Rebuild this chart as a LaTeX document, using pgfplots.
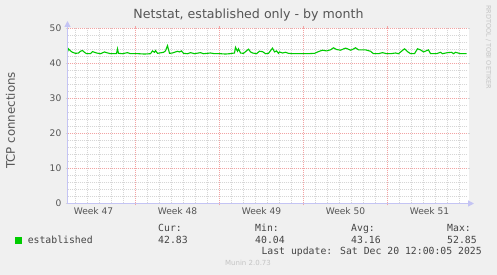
\documentclass[border=0pt]{standalone}
\usepackage{pgfplots}
\pgfplotsset{compat=1.18}
\usepackage{fontspec}
\setmainfont{DejaVu Sans}
\newfontfamily\mono{DejaVu Sans Mono}
\usetikzlibrary{arrows.meta}
\definecolor{bg}{HTML}{F0F0F0}
\definecolor{txt}{HTML}{555555}
\definecolor{ltxt}{HTML}{444444}
\definecolor{mgrid}{HTML}{F2A4A4}
\definecolor{sgrid}{HTML}{D6D6D6}
\definecolor{axisc}{HTML}{C4C4F4}
\definecolor{linec}{HTML}{00CC00}
\definecolor{wm}{HTML}{C4C4C4}
\pgfplotstableread{
x y
67 43.3
68 44.2
70 43.6
72 43.2
75 42.9
78 43.0
80 43.5
82 43.7
84 43.2
86 42.8
90 42.8
92 43.4
94 43.2
96 43.0
100 42.8
104 43.3
106 43.1
110 42.8
116 42.8
117 44.2
118 42.9
122 42.8
127 43.1
130 42.8
138 42.8
144 42.7
150 42.8
152 43.6
154 43.2
155 43.7
157 42.9
163 43.2
165 43.6
167 45.1
169 42.9
172 43.0
177 43.5
179 43.3
181 43.6
183 42.9
187 42.8
190 43.1
194 42.8
200 43.1
203 42.8
210 43.0
214 42.8
220 42.8
225 42.7
229 42.8
234 43.0
235 44.6
237 43.5
238 44.2
240 43.0
243 42.9
248 44.1
250 43.3
252 43.0
256 42.8
259 43.5
262 43.4
265 42.8
268 42.9
272 44.4
274 43.3
276 43.6
278 42.9
279 43.3
282 43.0
285 43.2
288 42.9
293 42.8
300 42.8
307 42.8
314 42.9
318 43.4
322 43.8
326 43.6
330 43.9
333 44.5
336 44.0
340 43.8
345 44.4
347 44.2
350 43.8
352 44.0
355 44.5
358 43.9
365 43.9
370 43.5
373 42.8
378 42.8
382 43.1
386 42.8
390 42.8
395 43.0
398 42.8
404 44.2
407 43.4
410 42.8
414 42.8
417 44.2
420 43.9
423 43.3
428 43.9
430 42.8
436 42.8
440 43.2
442 42.8
447 43.1
451 43.2
453 42.8
455 43.2
460 42.8
466 42.8
}\established
\begin{document}
\begin{tikzpicture}[x=1pt,y=1pt]
\fill[bg] (0,0) rectangle (497,275);
\fill[white] (67.5,71.5) rectangle (468.5,247);
\begin{axis}[
  at={(67.5pt,71.5pt)}, anchor=south west,
  scale only axis, width=400pt, height=175pt,
  xmin=67, xmax=467, ymin=0, ymax=50,
  axis line style={draw=none},
  xtick={135,219,303,387}, xticklabels={},
  minor xtick={75,87,99,111,123,147,159,171,183,195,207,231,243,255,267,279,291,315,327,339,351,363,375,399,411,423,435,447,459},
  ytick={0,10,20,30,40,50},
  minor ytick={2,4,6,8,12,14,16,18,22,24,26,28,32,34,36,38,42,44,46,48},
  xmajorgrids=true, ymajorgrids=true, xminorgrids=true, yminorgrids=true,
  major grid style={draw=mgrid, dash pattern=on 1pt off 1pt, line width=1pt},
  minor grid style={draw=sgrid, dash pattern=on 1pt off 1pt, line width=1pt},
  extra x ticks={93,177,261,345,429},
  extra x tick labels={Week 47,Week 48,Week 49,Week 50,Week 51},
  extra x tick style={xmajorgrids=false, major tick length=0pt},
  tick align=outside, major tick length=2pt, minor tick length=0pt,
  x tick style={draw=mgrid, line width=1pt},
  y tick style={draw=sgrid, line width=1pt},
  /pgf/number format/assume math mode=true,
  tick label style={font=\fontsize{9.1}{10}\selectfont, text=txt},
  xticklabel style={inner sep=0pt, anchor=north, yshift=-4pt},
  yticklabel style={inner sep=0pt, anchor=east, xshift=-4pt},
  title={Netstat, established only - by month},
  title style={at={(axis description cs:0.4525,1.0229)}, anchor=base, inner sep=0pt, font=\fontsize{12.6}{14}\selectfont, text=txt},
  ylabel={TCP connections},
  ylabel style={at={(axis description cs:-0.1425,0.474)}, anchor=center, inner sep=0pt, font=\fontsize{11.8}{13}\selectfont, text=txt},
  legend style={at={(axis description cs:-0.1325,-0.2114)}, anchor=west, draw=none, fill=none, inner sep=0pt, font=\mono\fontsize{9.8}{11}\selectfont, text=ltxt, nodes={inner sep=0pt}},
  legend image code/.code={\fill[linec] (0pt,-3pt) rectangle (6pt,3pt);},
  legend cell align=left,
  every axis legend/.append style={/tikz/every odd column/.style={column sep=6pt}},
]
\addplot[linec, line width=1.1pt] table[x=x,y=y] {\established};
\addlegendentry{established}
\end{axis}
\draw[axisc, line width=1pt, -{Triangle[width=6pt,length=6pt]}] (67.5,71) -- (67.5,254);
\draw[axisc, line width=1pt, -{Triangle[width=6pt,length=6pt]}] (67,71.5) -- (474,71.5);
\begin{scope}[every node/.style={inner sep=0pt, text=ltxt, font=\mono\fontsize{9.8}{11}\selectfont}]
\node[anchor=base west] at (158,43.3) {Cur:};
\node[anchor=base west] at (158,31.7) {42.83};
\node[anchor=base west] at (255,43.3) {Min:};
\node[anchor=base west] at (255,31.7) {40.04};
\node[anchor=base west] at (351,43.3) {Avg:};
\node[anchor=base west] at (351,31.7) {43.16};
\node[anchor=base west] at (447,43.3) {Max:};
\node[anchor=base west] at (447,31.7) {52.85};
\node[anchor=base east] at (482,20) {Last update: Sat Dec 20 12:00:05 2025};
\end{scope}
\node[anchor=base, inner sep=0pt, text=wm, font=\fontsize{7}{8}\selectfont] at (248,9) {Munin 2.0.73};
\node[anchor=west, rotate=-90, inner sep=0pt, text=wm, font=\fontsize{6.5}{7}\selectfont] at (488.5,270) {RRDTOOL / TOBI OETIKER};
\end{tikzpicture}
\end{document}
